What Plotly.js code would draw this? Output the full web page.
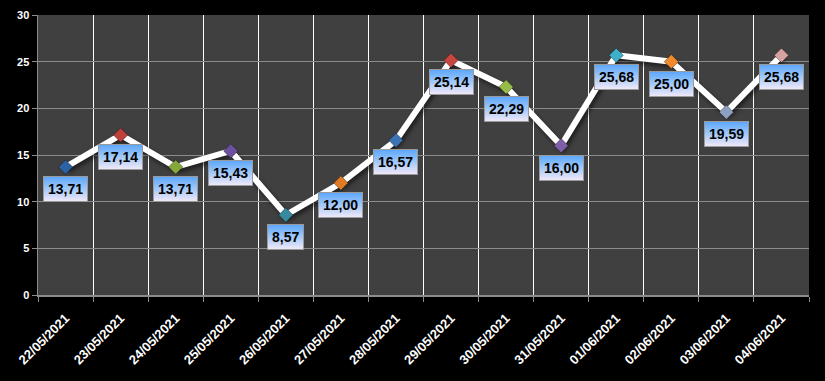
<!DOCTYPE html>
<html>
<head>
<meta charset="utf-8">
<script src="https://cdn.plot.ly/plotly-3.0.1.min.js"></script>
<style>
  html, body { margin: 0; padding: 0; background: #000; }
  #chart { width: 825px; height: 381px; }
</style>
</head>
<body>
<div id="chart"></div>
<script>
const dates = ["22/05/2021","23/05/2021","24/05/2021","25/05/2021","26/05/2021","27/05/2021","28/05/2021",
               "29/05/2021","30/05/2021","31/05/2021","01/06/2021","02/06/2021","03/06/2021","04/06/2021"];
const values = [13.71, 17.14, 13.71, 15.43, 8.57, 12.00, 16.57, 25.14, 22.29, 16.00, 25.68, 25.00, 19.59, 25.68];
const markerColors = ["#2c62a3","#c0403c","#86a83a","#6e519e","#36899f","#e07a24",
                      "#3d72b4","#c8463f","#96bd48","#7e5fa8","#3eb0cc","#f08a2c","#8ea0c2","#d8a2a2"];
const yTicks = [0, 5, 10, 15, 20, 25, 30];

const fmt = v => v.toFixed(2).replace(".", ",");

const trace = {
  type: "scatter",
  mode: "lines+markers",
  x: dates,
  y: values,
  line: { color: "#ffffff", width: 6 },
  marker: {
    symbol: "diamond",
    size: 11,
    color: markerColors,
    line: { color: "rgba(0,0,0,0.35)", width: 1 }
  },
  hoverinfo: "skip"
};

const annotations = dates.map((d, i) => ({
  x: d, y: values[i], xref: "x", yref: "y",
  text: fmt(values[i]),
  showarrow: false,
  yshift: -22,
  bgcolor: "#a8cdf8",
  bordercolor: "#9a9a9a",
  borderwidth: 1,
  borderpad: 4,
  font: { family: "Liberation Sans, Arial, sans-serif", size: 14, color: "#000000", weight: "bold" }
}));

const layout = {
  width: 825, height: 381,
  paper_bgcolor: "#000000",
  plot_bgcolor: "#404040",
  margin: { l: 38, r: 16, t: 15, b: 86 },
  showlegend: false,
  xaxis: {
    type: "category",
    range: [-0.5, dates.length - 0.5],
    tickson: "boundaries",
    showgrid: true,
    gridcolor: "#ffffff",
    gridwidth: 1,
    ticks: "outside",
    ticklen: 5,
    tickcolor: "#8c8c8c",
    showline: true,
    linecolor: "#8c8c8c",
    linewidth: 1.5,
    tickangle: -45,
    ticklabelstandoff: 9,
    tickfont: { family: "Liberation Sans, Arial, sans-serif", size: 13, color: "#ffffff", weight: "bold" },
    fixedrange: true
  },
  yaxis: {
    range: [0, 30],
    tickvals: yTicks,
    showgrid: true,
    gridcolor: "#8c8c8c",
    gridwidth: 1,
    zeroline: false,
    ticks: "outside",
    ticklen: 5,
    tickcolor: "#8c8c8c",
    showline: true,
    linecolor: "#8c8c8c",
    linewidth: 1.5,
    tickfont: { family: "Liberation Sans, Arial, sans-serif", size: 11, color: "#ffffff", weight: "bold" },
    fixedrange: true
  },
  annotations: annotations
};

Plotly.newPlot("chart", [trace], layout, { displayModeBar: false, staticPlot: true }).then(gd => {
  const svg = gd.querySelector("svg.main-svg");
  const ns = "http://www.w3.org/2000/svg";
  let defs = svg.querySelector("defs");
  if (!defs) { defs = document.createElementNS(ns, "defs"); svg.insertBefore(defs, svg.firstChild); }
  const grad = document.createElementNS(ns, "linearGradient");
  grad.setAttribute("id", "lblgrad");
  grad.setAttribute("x1", "0"); grad.setAttribute("y1", "0");
  grad.setAttribute("x2", "0"); grad.setAttribute("y2", "1");
  [["0", "#5aa6fb"], ["0.5", "#a2c9f8"], ["1", "#f3e9f8"]].forEach(([o, c]) => {
    const s = document.createElementNS(ns, "stop");
    s.setAttribute("offset", o); s.setAttribute("stop-color", c);
    grad.appendChild(s);
  });
  defs.appendChild(grad);
  gd.querySelectorAll("g.annotation rect.bg").forEach(r => { r.style.fill = "url(#lblgrad)"; });
  gd.querySelectorAll(".scatterlayer .js-line").forEach(p => {
    p.style.filter = "drop-shadow(2px 3px 2px rgba(0,0,0,0.55))";
  });
});
</script>
</body>
</html>
